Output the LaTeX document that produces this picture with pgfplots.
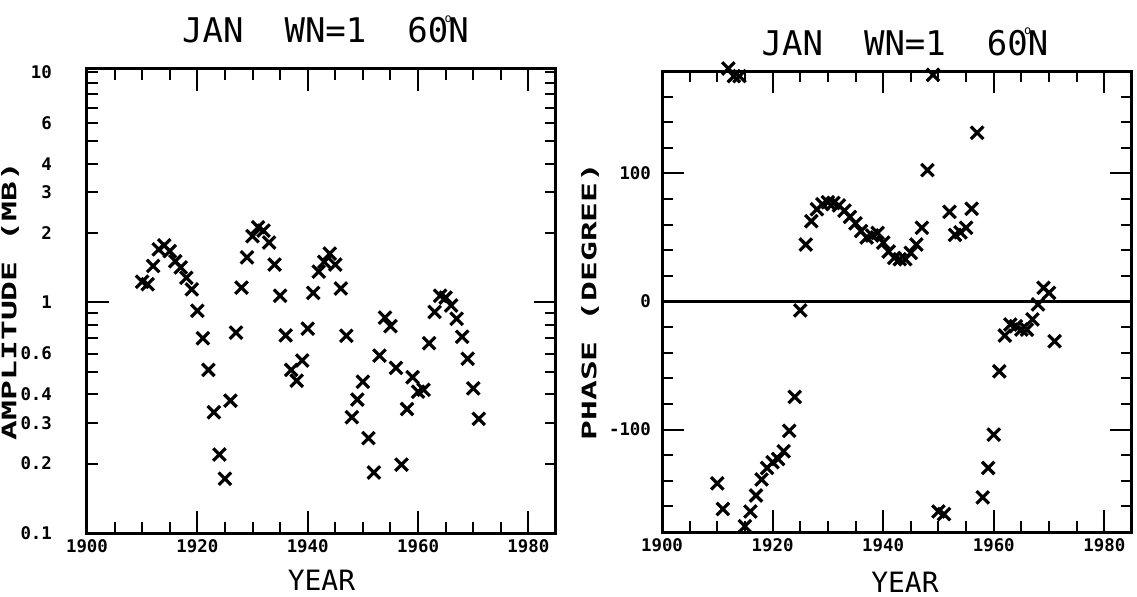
\documentclass[border=0pt]{standalone}
\usepackage{fontspec}
\setmainfont{DejaVu Sans Mono}
\usepackage{pgfplots}
\pgfplotsset{compat=1.18}
\usepackage{pgfplotstable}

\pgfplotstableread{
year amp
1910 1.23
1911 1.20
1912 1.44
1913 1.70
1914 1.77
1915 1.67
1916 1.51
1917 1.42
1918 1.28
1919 1.14
1920 0.92
1921 0.70
1922 0.51
1923 0.334
1924 0.219
1925 0.172
1926 0.375
1927 0.74
1928 1.16
1929 1.57
1930 1.94
1931 2.12
1932 2.05
1933 1.82
1934 1.46
1935 1.07
1936 0.72
1937 0.51
1938 0.458
1939 0.56
1940 0.77
1941 1.10
1942 1.36
1943 1.50
1944 1.63
1945 1.46
1946 1.15
1947 0.717
1948 0.318
1949 0.379
1950 0.453
1951 0.258
1952 0.183
1953 0.588
1954 0.86
1955 0.79
1956 0.52
1957 0.198
1958 0.345
1959 0.474
1960 0.41
1961 0.418
1962 0.666
1963 0.91
1964 1.07
1965 1.05
1966 0.97
1967 0.85
1968 0.71
1969 0.57
1970 0.424
1971 0.313
}\amptable

\pgfplotstableread{
year phase
1910 -142
1911 -162
1912 182
1913 176
1914 176
1915 -175.5
1916 -164
1917 -151.5
1918 -139
1919 -130
1920 -125.5
1921 -123
1922 -117
1923 -101
1924 -74.5
1925 -7
1926 44.5
1927 62.7
1928 72
1929 76
1930 77.5
1931 77
1932 75
1933 71
1934 66
1935 61
1936 55
1937 50
1938 51.5
1939 53.5
1940 46
1941 39
1942 34
1943 33
1944 33
1945 38
1946 44.5
1947 57.6
1948 102.6
1949 177
1950 -164
1951 -166
1952 70
1953 52
1954 54
1955 57.6
1956 72.4
1957 131.8
1958 -153
1959 -130
1960 -104
1961 -54.5
1962 -26.6
1963 -18
1964 -19.3
1965 -21.9
1966 -22
1967 -14
1968 -2.3
1969 10.7
1970 6.8
1971 -31
}\phasetable

\newcommand{\ttl}{JAN\ \ WN=1\ \ 60\makebox[0pt]{\raisebox{0.6em}{\fontsize{6}{6}\selectfont o}}N}
\newcommand{\ylab}[1]{\scalebox{1.65}[1]{#1}}

\begin{document}
\begin{tikzpicture}
\path[use as bounding box] (0,0) rectangle (568.5pt,298pt);
\pgfplotsset{
  mystyle/.style={
    scale only axis, anchor=south west,
    xmin=1900, xmax=1985,
    xtick={1900,1920,1940,1960,1980},
    xticklabels={1900,1920,1940,1960,1980},
    minor x tick num=3,
    major tick length=11pt, minor tick length=5.5pt,
    tick pos=both, tick align=inside,
    axis line style={line width=1.5pt},
    every tick/.style={black, line width=1pt},
    ticklabel style={font=\fontsize{8.7}{9}\selectfont\bfseries},
    title style={font=\fontsize{17}{17}\selectfont, anchor=base, at={(axis description cs:0.5,1)}},
    xlabel style={font=\fontsize{14}{14}\selectfont, anchor=base},
    ylabel style={font=\fontsize{10}{10}\selectfont\bfseries, anchor=center},
  },
  xmarks/.style={only marks, mark=x, mark size=4.4pt, mark options={line width=1.6pt, black}},
}
\begin{axis}[mystyle, at={(43.5pt,31.5pt)}, width=234.5pt, height=232pt,
  ymode=log, ymin=0.1, ymax=10.3,
  ytick={1}, yticklabels={1},
  minor ytick={0.2,0.3,0.4,0.5,0.6,0.7,0.8,0.9,2,3,4,5,6,7,8,9},
  extra y ticks={0.1,0.2,0.3,0.4,0.6,2,3,4,6,10},
  extra y tick labels={0.1,0.2,0.3,0.4,0.6,2,3,4,6,10},
  extra y tick style={major tick length=5.5pt},
  yticklabel style={xshift=-14pt},
  title={\ttl}, title style={yshift=7pt, xshift=2pt},
  xlabel={YEAR}, xlabel style={at={([yshift=-28.5pt]axis description cs:0.5,0)}},
  ylabel={\ylab{AMPLITUDE (MB)}}, ylabel style={at={([xshift=-38.5pt]axis description cs:0,0.5)}},
]
\addplot[xmarks] table[x=year, y=amp] {\amptable};
\end{axis}

\begin{axis}[mystyle, at={(331pt,32pt)}, width=235pt, height=230.5pt,
  ymin=-180, ymax=180, clip=false,
  ytick={-100,0,100}, yticklabels={-100,0,100},
  minor ytick={-160,-140,-120,-80,-60,-40,-20,20,40,60,80,120,140,160},
  yticklabel style={xshift=-2pt},
  title={\ttl}, title style={yshift=2pt, xshift=4pt},
  xlabel={YEAR}, xlabel style={at={([yshift=-30pt,xshift=4pt]axis description cs:0.5,0)}},
  ylabel={\ylab{PHASE (DEGREE)}}, ylabel style={at={([xshift=-36pt]axis description cs:0,0.5)}},
]
\addplot[line width=1.5pt, no markers, black] coordinates {(1900,0) (1985,0)};
\addplot[xmarks] table[x=year, y=phase] {\phasetable};
\end{axis}
\end{tikzpicture}
\end{document}
